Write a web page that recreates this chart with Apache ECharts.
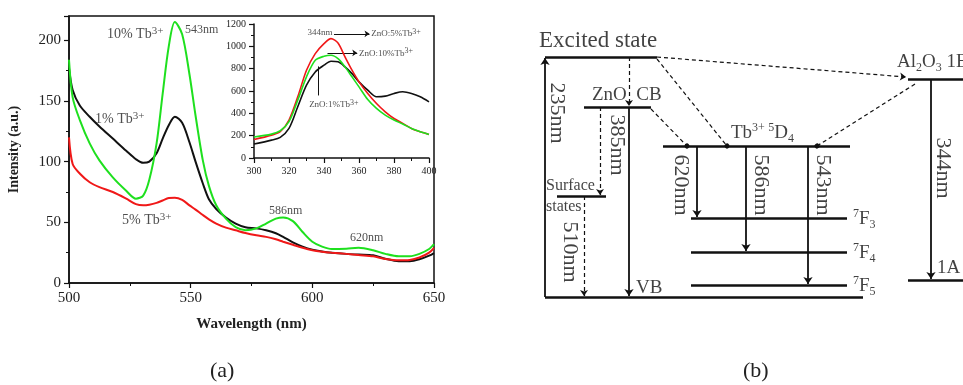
<!DOCTYPE html>
<html>
<head>
<meta charset="utf-8">
<script src="https://cdn.jsdelivr.net/npm/echarts@6/dist/echarts.min.js"></script>
<style>
  html, body { margin: 0; padding: 0; background: #fff; }
  #chart { width: 963px; height: 385px; }
</style>
</head>
<body>
<div id="chart"></div>
<script>
const SERIF = '"Liberation Serif", "Times New Roman", serif';

// (a) emission spectra, wavelength in nm
const wavelength = [500, 501.5, 504.5, 508.5, 512.5, 518, 523.5, 527.5, 530.5, 533, 536, 538.5, 541, 543.5, 546.5, 549.5, 552, 555, 557.5, 560.5, 564.5, 568.5, 572.5, 577, 581, 585, 588, 592, 596, 600, 604, 608, 614, 619, 625, 630, 635.5, 640, 644, 648, 650];
const tb1  = [177, 159, 146, 137, 129, 119, 109, 102, 99, 100, 107, 119, 130, 137, 132, 116, 100, 82, 69, 61, 54, 49, 46, 45, 43.4, 41, 38, 33.5, 30, 27.5, 26, 25, 24, 23.4, 22.8, 20, 18, 18, 19.5, 22.5, 24.7];
const tb5  = [120, 98, 90, 83, 79, 75, 69.5, 65, 64, 64.5, 66, 68, 70, 70.3, 68.5, 64, 60.5, 56, 52.5, 49, 45.6, 43.4, 41.2, 39.3, 38, 36, 34, 31.5, 29, 27, 25.8, 25, 24, 23, 22, 19.8, 18.7, 19, 21, 25, 29];
const tb10 = [184, 153, 134, 115, 101, 87, 76, 69.5, 72, 85, 115, 156, 195, 215, 205, 172, 138, 101, 80, 64, 53, 46, 43.5, 45, 49, 53, 54, 51, 42, 34, 30, 28, 28.3, 29, 27, 24, 22, 22, 24, 28, 32];

// inset: excitation spectra
const exWave = [300, 310, 315, 320, 325, 330, 335, 340, 344, 348, 352, 356, 360, 365, 370, 375, 380, 385, 390, 395, 400];
const ex1  = [125, 160, 185, 265, 459, 652, 771, 831, 866, 861, 816, 756, 682, 607, 548, 554, 578, 593, 578, 548, 503];
const ex5  = [165, 205, 235, 340, 548, 786, 935, 1024, 1069, 1030, 905, 786, 682, 578, 488, 414, 354, 310, 265, 235, 211];
const ex10 = [188, 214, 244, 325, 518, 727, 875, 911, 920, 890, 816, 727, 637, 524, 444, 384, 340, 304, 265, 235, 211];

// annotations [x, y, text, superscript]
const mainNotes = [
  [515.6, 205, '10% Tb', '3+'],
  [547.7, 209, '543nm', ''],
  [510.7, 135, '1% Tb', '3+'],
  [521.8, 51.5, '5% Tb', '3+'],
  [582.2, 59.5, '586nm', ''],
  [615.5, 37, '620nm', '']
];
const insetNotes = [
  [330.6, 1125, '344nm', ''],
  [367, 1110, 'ZnO:5%Tb', '3+'],
  [360, 935, 'ZnO:10%Tb', '3+'],
  [331.5, 475, 'ZnO:1%Tb', '3+']
];
const insetArrows = [
  [[345.7, 1112], [366, 1112]],
  [[342, 941], [359, 941]]
];
const insetPointer = [[[336.6, 820], [336.6, 560]]];

// (b) energy level scheme, [x0, x1, y]
const levels = [[545, 657, 57], [584, 651, 107], [557, 606, 196], [545, 863, 297], [663, 850, 146],
  [691, 847, 218], [691, 847, 252], [691, 847, 285], [908, 963, 79], [908, 963, 280]];
// radiative transitions [x0, y0, x1, y1]
const emissions = [[545, 297, 545, 58], [629, 107, 629, 296], [697, 146, 697, 217], [746, 146, 746, 251],
  [808, 146, 808, 284], [931, 79, 931, 279]];
const relaxations = [[629, 57, 629, 106], [600, 107, 600, 195], [584, 196, 584, 296], [657, 57, 906, 77]];
const transfers = [[651, 109, 687, 146], [657, 59, 727, 146], [915, 84, 817, 146]];
// [x, y, rich text]
const levelNames = [
  [539, 41, '{e|Excited state}'],
  [592, 95, '{n|ZnO  CB}'],
  [546, 186, '{m|Surface}'],
  [546, 207, '{m|states}'],
  [636, 288, '{n|VB}'],
  [731, 133, '{n|Tb}{s|3+} {s|5}{n|D}{b|4}'],
  [853, 219, '{s|7}{n|F}{b|3}'],
  [853, 253, '{s|7}{n|F}{b|4}'],
  [853, 286, '{s|7}{n|F}{b|5}'],
  [897, 62, '{n|Al}{b|2}{n|O}{b|3}{n| 1E}'],
  [937, 268, '{n|1A}']
];
const bandLabels = [
  [557, 113, '235nm'], [617, 145, '385nm'], [570, 252, '510nm'], [681, 185, '620nm'],
  [761, 185, '586nm'], [823, 185, '543nm'], [943, 168, '344nm']
];

const pairs = (xs, ys) => xs.map((x, i) => [x, ys[i]]);
const segs = (arr) => arr.map(s => ({ coords: [[s[0], s[1]], [s[2], s[3]]] }));

const axisCommon = (size) => ({
  axisLine: { show: true, lineStyle: { color: '#111', width: 1.5 } },
  axisTick: { show: true, inside: false, length: 5, lineStyle: { color: '#111', width: 1.2 } },
  minorTick: { show: true, splitNumber: 2, length: 3, lineStyle: { color: '#111', width: 1 } },
  splitLine: { show: false },
  axisLabel: { color: '#222', fontFamily: SERIF, fontSize: size, formatter: v => String(v) }
});

const myChart = echarts.init(document.getElementById('chart'));

const option = {
  animation: false,
  backgroundColor: '#fff',
  grid: [
    { left: 69, top: 16, width: 365, height: 267, show: true, borderColor: '#111', borderWidth: 1.5, backgroundColor: 'transparent' },
    { left: 254, top: 24, width: 175, height: 134 },
    { left: 0, top: 0, width: 963, height: 385 }
  ],
  xAxis: [
    Object.assign(axisCommon(15), {
      gridIndex: 0, type: 'value', min: 500, max: 650, interval: 50,
      name: 'Wavelength (nm)', nameLocation: 'middle', nameGap: 34,
      nameTextStyle: { fontFamily: SERIF, fontSize: 15, fontWeight: 'bold', color: '#222' }
    }),
    Object.assign(axisCommon(10), { gridIndex: 1, type: 'value', min: 300, max: 400, interval: 20 }),
    { gridIndex: 2, type: 'value', min: 0, max: 963, show: false }
  ],
  yAxis: [
    Object.assign(axisCommon(15), {
      gridIndex: 0, type: 'value', min: 0, max: 220, interval: 50,
      name: 'Intensity (a.u.)', nameLocation: 'middle', nameGap: 48,
      nameTextStyle: { fontFamily: SERIF, fontSize: 14, fontWeight: 'bold', color: '#222' }
    }),
    Object.assign(axisCommon(10), { gridIndex: 1, type: 'value', min: 0, max: 1200, interval: 200 }),
    { gridIndex: 2, type: 'value', min: 0, max: 385, inverse: true, show: false }
  ],
  series: [
    // spectra
    { type: 'line', name: '1%', data: pairs(wavelength, tb1), showSymbol: false, smooth: 0.3, lineStyle: { color: '#111', width: 2 } },
    { type: 'line', name: '5%', data: pairs(wavelength, tb5), showSymbol: false, smooth: 0.3, lineStyle: { color: '#f01818', width: 2 } },
    { type: 'line', name: '10%', data: pairs(wavelength, tb10), showSymbol: false, smooth: 0.3, lineStyle: { color: '#1ee01e', width: 2 } },
    // inset
    { type: 'line', xAxisIndex: 1, yAxisIndex: 1, data: pairs(exWave, ex1), showSymbol: false, smooth: 0.3, lineStyle: { color: '#111', width: 1.6 } },
    { type: 'line', xAxisIndex: 1, yAxisIndex: 1, data: pairs(exWave, ex5), showSymbol: false, smooth: 0.3, lineStyle: { color: '#f01818', width: 1.6 } },
    { type: 'line', xAxisIndex: 1, yAxisIndex: 1, data: pairs(exWave, ex10), showSymbol: false, smooth: 0.3, lineStyle: { color: '#1ee01e', width: 1.6 } },
    {
      type: 'lines', coordinateSystem: 'cartesian2d', xAxisIndex: 1, yAxisIndex: 1,
      symbol: ['none', 'arrow'], symbolSize: 5,
      lineStyle: { color: '#111', width: 1.2, opacity: 1 },
      data: insetArrows.map(c => ({ coords: c }))
    },
    {
      type: 'lines', coordinateSystem: 'cartesian2d', xAxisIndex: 1, yAxisIndex: 1,
      symbol: 'none', lineStyle: { color: '#111', width: 1, opacity: 1 },
      data: insetPointer.map(c => ({ coords: c }))
    },
    // notes
    {
      type: 'scatter', symbolSize: 0, data: mainNotes,
      label: {
        show: true, position: [0, 0], align: 'left', verticalAlign: 'middle',
        formatter: p => p.data[3] ? '{t|' + p.data[2] + '}{s|' + p.data[3] + '}' : '{n|' + p.data[2] + '}',
        rich: {
          t: { fontFamily: SERIF, fontSize: 14, color: '#222' },
          s: { fontFamily: SERIF, fontSize: 11, color: '#222', verticalAlign: 'top', lineHeight: 18 },
          n: { fontFamily: SERIF, fontSize: 12, color: '#222' }
        }
      }
    },
    {
      type: 'scatter', xAxisIndex: 1, yAxisIndex: 1, symbolSize: 0, data: insetNotes,
      label: {
        show: true, position: [0, 0], align: 'left', verticalAlign: 'middle',
        formatter: p => '{t|' + p.data[2] + '}' + (p.data[3] ? '{s|' + p.data[3] + '}' : ''),
        rich: {
          t: { fontFamily: SERIF, fontSize: 9, color: '#222' },
          s: { fontFamily: SERIF, fontSize: 8, color: '#222', verticalAlign: 'top', lineHeight: 13 }
        }
      }
    },
    // energy diagram
    {
      type: 'lines', coordinateSystem: 'cartesian2d', xAxisIndex: 2, yAxisIndex: 2, symbol: 'none',
      lineStyle: { color: '#111', width: 2.5, opacity: 1 },
      data: levels.map(l => ({ coords: [[l[0], l[2]], [l[1], l[2]]] }))
    },
    {
      type: 'lines', coordinateSystem: 'cartesian2d', xAxisIndex: 2, yAxisIndex: 2,
      symbol: ['none', 'arrow'], symbolSize: 7,
      lineStyle: { color: '#111', width: 1.8, opacity: 1 },
      data: segs(emissions)
    },
    {
      type: 'lines', coordinateSystem: 'cartesian2d', xAxisIndex: 2, yAxisIndex: 2,
      symbol: ['none', 'arrow'], symbolSize: 6,
      lineStyle: { color: '#111', width: 1.2, type: [4, 3], opacity: 1 },
      data: segs(relaxations)
    },
    {
      type: 'lines', coordinateSystem: 'cartesian2d', xAxisIndex: 2, yAxisIndex: 2,
      symbol: ['none', 'circle'], symbolSize: 5,
      lineStyle: { color: '#111', width: 1.2, type: [4, 3], opacity: 1 },
      data: segs(transfers)
    },
    {
      type: 'scatter', xAxisIndex: 2, yAxisIndex: 2, symbolSize: 0, data: levelNames,
      label: {
        show: true, position: [0, 0], align: 'left', verticalAlign: 'middle',
        formatter: p => p.data[2],
        rich: {
          e: { fontFamily: SERIF, fontSize: 23, color: '#111' },
          n: { fontFamily: SERIF, fontSize: 19, color: '#111' },
          m: { fontFamily: SERIF, fontSize: 16, color: '#111' },
          s: { fontFamily: SERIF, fontSize: 12, color: '#111', verticalAlign: 'top', lineHeight: 23 },
          b: { fontFamily: SERIF, fontSize: 12, color: '#111', verticalAlign: 'bottom', lineHeight: 23 }
        }
      }
    },
    {
      type: 'scatter', xAxisIndex: 2, yAxisIndex: 2, symbolSize: 0, data: bandLabels,
      label: {
        show: true, position: [0, 0], align: 'center', verticalAlign: 'middle', rotate: -90,
        formatter: p => p.data[2], fontFamily: SERIF, fontSize: 22, color: '#111'
      }
    }
  ],
  graphic: [
    { type: 'text', left: 210, top: 360, style: { text: '(a)', font: '22px ' + SERIF, fill: '#222' } },
    { type: 'text', left: 743, top: 360, style: { text: '(b)', font: '22px ' + SERIF, fill: '#222' } }
  ]
};

myChart.setOption(option);
myChart.setOption({ yAxis: [{ axisLabel: { showMaxLabel: false } }] });
</script>
</body>
</html>
